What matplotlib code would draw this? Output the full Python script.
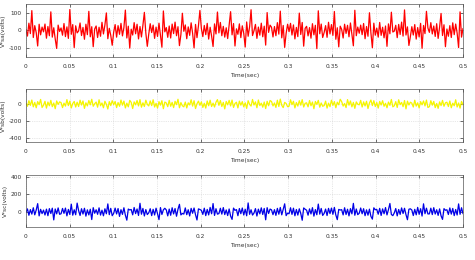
import numpy as np
import matplotlib
matplotlib.use("Agg")
import matplotlib.pyplot as plt

t_start, t_end = 0.0, 0.5
x_ticks = [0, 0.05, 0.1, 0.15, 0.2, 0.25, 0.3, 0.35, 0.4, 0.45, 0.5]
x_tick_labels = ["0", "0.05", "0.1", "0.15", "0.2", "0.25", "0.3", "0.35", "0.4", "0.45", "0.5"]

vsa = [
5,-32,41,-18,112,-40,27,-12,-88,35,-25,19,
-8,36,-44,22,-30,105,-38,15,-48,-102,30,-6,
14,-27,39,-35,20,-45,118,-22,33,-97,26,-14,
-3,42,-29,17,-50,35,-24,108,-36,21,-92,8,
25,-40,18,-33,46,-20,31,99,-47,12,-28,-84,
-10,33,-38,27,-22,40,-31,16,115,-43,24,-100,
7,-26,44,-19,35,-48,22,-37,29,102,-15,-90,
-21,38,-12,30,-45,19,-34,41,-27,-95,110,-8,
16,-39,25,-43,36,-18,47,-30,21,-86,-23,97,
-5,31,-47,20,-28,43,-16,-99,34,-41,26,113,
11,-35,28,-24,40,-49,18,-32,-91,37,-20,104,
-14,45,-30,23,-38,15,-46,33,106,-25,39,-88,
9,-22,37,-41,26,-17,-94,48,-33,20,117,-29,
-2,34,-45,19,-27,41,-36,24,-83,101,-11,30,
18,-37,22,-30,44,-21,109,-42,28,-96,-16,35,
-7,40,-26,31,-48,17,-35,98,-23,45,-89,12,
23,-31,16,-44,38,-25,29,-103,111,-19,36,-40,
-12,27,-39,46,-20,33,-28,107,-50,15,-93,24,
6,-43,35,-17,29,-36,42,-21,-87,114,-30,19,
-16,30,-24,39,-47,22,-33,100,-14,-98,41,-27,
13,-38,45,-28,18,-42,25,-90,37,-19,103,-9,
-4,29,-41,34,-23,47,-32,116,-26,20,-85,-35,
21,-26,33,-49,16,-37,40,-101,28,-18,108,14,
-11,44,-20,25,-34,38,-45,19,96,-29,32,-92,
8,-33,27,-40,43,-24,36,-15,-97,105,-38,10,
]

vsb = [
9,-26,40,-15,48,-33,20,-44,29,-7,55,-40,
-13,33,-48,24,-20,44,-31,13,-55,37,-4,26,
18,-42,11,-24,53,-18,35,-46,7,31,-35,22,
-29,46,-11,37,-51,15,-22,42,-9,57,-26,4,
24,-37,51,-20,13,-44,33,-2,-59,29,-18,40,
-7,31,-42,18,-26,48,-13,35,-46,11,-33,44,
20,-53,26,-9,42,-22,53,-37,15,-29,46,-4,
-22,37,-18,51,-35,9,-48,29,-13,40,-55,24,
13,-31,44,-26,20,-42,33,-7,57,-44,18,-20,
-33,24,-46,15,-11,51,-24,40,-53,4,35,-15,
26,-40,9,-48,37,-20,46,-29,11,-35,22,53,
-15,42,-29,20,-57,31,-9,44,-22,48,-40,7,
22,-46,35,-13,29,-33,15,-51,40,-4,-24,55,
-11,26,-44,48,-18,11,-37,24,-53,33,-20,42,
31,-22,13,-40,46,-29,59,-15,-42,20,7,-31,
-26,51,-7,33,-46,18,-24,40,-13,53,-35,9,
15,-33,42,-20,24,-55,31,-4,44,-37,13,-26,
-18,35,-48,11,-31,46,-15,29,-44,22,-9,57,
29,-24,7,-42,53,-13,37,-33,20,-51,26,-2,
-9,44,-35,26,-22,33,-53,13,48,-18,40,-29,
18,-48,31,-11,40,-26,9,-44,24,-15,55,-33,
-20,29,-40,51,-7,20,-31,42,-57,35,-11,22,
11,-35,46,-24,15,-46,29,-9,37,-22,48,-40,
-31,40,-13,31,-42,7,-51,26,-18,44,-26,15,
22,-29,37,-44,11,-20,51,-35,13,-48,31,-7,
]

vsc = [
-8,32,-41,24,-28,45,-36,19,92,-48,27,-22,
18,-38,29,-46,35,-21,40,-94,31,-25,43,-30,
-24,37,-19,41,-48,26,-32,86,-40,22,-35,98,
13,-43,34,-27,39,-51,21,-37,28,-90,46,-18,
22,-30,44,-39,17,-47,33,-24,89,-34,38,-46,
-19,41,-26,36,-54,23,-31,45,-40,-97,30,20,
25,-36,48,-22,31,-43,96,-29,37,-49,24,-33,
-13,34,-45,27,-38,40,-23,-91,47,-32,21,39,
20,-48,30,-41,45,-26,36,-52,28,84,-37,-20,
-27,43,-34,22,-49,38,-18,42,-35,-95,32,25,
16,-31,40,-45,26,-37,49,-24,93,-43,34,-28,
-22,39,-28,47,-33,20,-44,31,-50,-88,41,15,
24,-46,36,-23,42,-38,28,-47,100,-30,22,-39,
-16,35,-50,29,-25,44,-32,37,-93,46,-21,30,
21,-34,23,-42,38,-29,48,-36,27,90,-45,-17,
-23,45,-31,40,-47,25,-39,33,-20,-98,43,28,
17,-40,32,-26,46,-51,24,-35,87,-28,37,-43,
-20,30,-44,38,-22,41,-30,49,-38,-91,26,19,
23,-37,45,-32,28,-48,35,-25,95,-41,31,-34,
-18,42,-24,34,-46,21,-40,29,-53,-85,44,22,
26,-29,38,-43,32,-24,47,-37,23,94,-32,-45,
-14,36,-48,25,-31,43,-21,39,-34,-92,28,33,
19,-44,27,-36,49,-30,34,-50,90,-23,40,-26,
-25,40,-33,46,-27,22,-42,32,-47,-88,35,16,
22,-32,43,-28,37,-45,25,-38,89,-30,45,-21,
]

series = [
    (vsa, "#ff0000", "V*sa(volts)", (-150, 150), [-100, 0, 100]),
    (vsb, "#f5f500", "V*sb(volts)", (-450, 180), [-400, -200, 0]),
    (vsc, "#0000e6", "V*sc(volts)", (-175, 420), [0, 200, 400]),
]

fig = plt.figure(figsize=(4.75, 2.6), dpi=100)
fig.patch.set_facecolor("white")

positions = [
    [0.0547, 0.781, 0.920, 0.204],
    [0.0547, 0.454, 0.920, 0.204],
    [0.0547, 0.127, 0.920, 0.200],
]

for (vals, col, ylab, ylim, yt), pos in zip(series, positions):
    ax = fig.add_axes(pos)
    n = len(vals)
    t = np.linspace(t_start, t_end, n)
    ax.plot(t, vals, color=col, lw=0.9)
    ax.set_xlim(t_start, t_end)
    ax.set_ylim(*ylim)
    ax.set_xticks(x_ticks)
    ax.set_xticklabels(x_tick_labels)
    ax.set_yticks(yt)
    ax.set_yticklabels([str(v) for v in yt])
    ax.tick_params(direction="in", length=2, width=0.5, labelsize=4.2,
                   colors="#333333", top=True, right=True)
    ax.tick_params(axis="x", pad=5)
    ax.tick_params(axis="y", pad=3)
    ax.grid(True, color="#d0d0d0", linestyle=":", linewidth=0.5)
    for sp in ax.spines.values():
        sp.set_linewidth(0.5)
        sp.set_color("#555555")
    ax.set_xlabel("Time(sec)", fontsize=4.2, color="#333333", labelpad=3)
    ax.set_ylabel(ylab, fontsize=4.2, color="#333333", labelpad=2)

fig.savefig("out.png", dpi=100)
